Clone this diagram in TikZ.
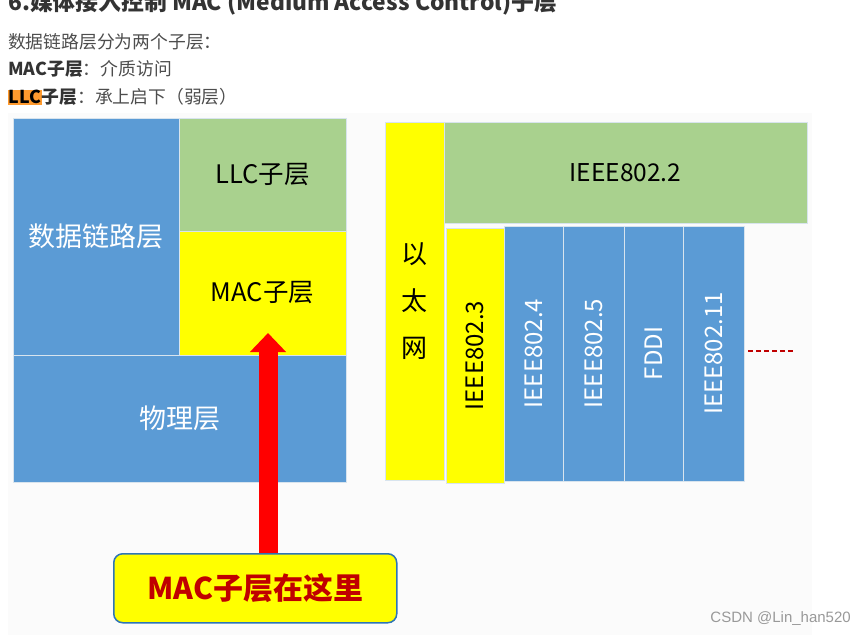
\documentclass[tikz,border=0pt]{standalone}
\usepackage{fontspec}
\setmainfont{Noto Sans CJK SC}
\newfontfamily\wmfont{Liberation Sans}
\usetikzlibrary{arrows.meta}
\definecolor{blueC}{HTML}{5B9BD5}
\definecolor{greenC}{HTML}{A9D18E}
\definecolor{yellowC}{HTML}{FFFF00}
\definecolor{txtC}{HTML}{4D4D4D}
\definecolor{headC}{HTML}{333333}
\definecolor{hlC}{HTML}{FF9A2E}
\definecolor{darkred}{HTML}{C00000}
\definecolor{calloutBorder}{HTML}{2E75B6}
\definecolor{edgeC}{HTML}{D8E4EE}
\begin{document}
\begin{tikzpicture}[x=1pt,y=-1pt,
  box/.style={draw=edgeC, line width=0.8pt, inner sep=0pt, outer sep=0pt, anchor=north west, font=\fontsize{25.5}{30}\selectfont},
  bigtext/.style={font=\fontsize{27}{32}\selectfont},
  vtext/.style={rotate=90, inner sep=0pt, font=\fontsize{24}{28}\selectfont},
  hdline/.style={anchor=west, inner sep=0pt, text=txtC, font=\fontsize{17.8}{21}\selectfont},
  bigarrow/.style={draw=red, line width=19pt, -{Triangle[width=35pt,length=19pt]}},
  redash/.style={draw=darkred, line width=2pt, dash pattern=on 5pt off 3pt},
  calloutbox/.style={draw=calloutBorder, line width=1.5pt, fill=yellowC, rounded corners=9pt, inner sep=0pt, anchor=north west, text=darkred, font=\fontsize{30}{34}\selectfont\bfseries}
]
\useasboundingbox (0,0) rectangle (865,635);
\clip (0,0) rectangle (865,635);
\fill[white] (0,0) rectangle (865,635);
\fill[gray!3] (8,113) rectangle (812,635);

% heading (cut off at top, as in the reference)
\node[anchor=base west, inner sep=0pt, text=headC, font=\fontsize{22.8}{26}\selectfont\bfseries] (title) at (8,10.5) {6.媒体接入控制 MAC (Medium Access Control)子层};

\node[hdline] (l1) at (8,42) {数据链路层分为两个子层：};
\node[hdline] (l2) at (8,69) {{\bfseries\color{headC}MAC子层}：介质访问};
\node[hdline] (l3) at (8,97) {{\setlength{\fboxsep}{0.6pt}\colorbox{hlC}{\bfseries\color{black}LLC}}{\bfseries\color{headC}子层}：承上启下（弱层）};

% left block
\node[box, bigtext, fill=blueC, text=white, minimum width=166, minimum height=237] (dll) at (13,118) {数据链路层};
\node[box, fill=greenC, text=black, minimum width=167, minimum height=113] (llc) at (179,118) {\raisebox{-5pt}{LLC子层}};
\node[box, fill=yellowC, text=black, minimum width=167, minimum height=124] (mac) at (179,231) {MAC子层};
\node[box, bigtext, fill=blueC, text=white, minimum width=333, minimum height=127] (phy) at (13,355) {物理层};

% right block
\node[box, fill=yellowC, minimum width=59, minimum height=358] (eth) at (385,122) {};
\node[inner sep=0pt, align=center, font=\fontsize{26}{47}\selectfont] (ethtxt) at (eth.center) {以\\太\\网};
\node[box, fill=greenC, text=black, minimum width=363, minimum height=101] (i8022) at (444,122) {\fontsize{24.5}{28}\selectfont IEEE802.2};
\node[box, fill=yellowC, minimum width=58, minimum height=255] (i8023) at (446,228) {};
\node[box, fill=blueC, minimum width=59, minimum height=255] (i8024) at (504,226) {};
\node[box, fill=blueC, minimum width=61, minimum height=255] (i8025) at (563,226) {};
\node[box, fill=blueC, minimum width=59, minimum height=255] (fddi) at (624,226) {};
\node[box, fill=blueC, minimum width=61, minimum height=255] (i80211) at (683,226) {};
\node[vtext, text=black] (t8023) at (i8023.center) {IEEE802.3};
\node[vtext, text=white] (t8024) at (i8024.center) {IEEE802.4};
\node[vtext, text=white] (t8025) at (i8025.center) {IEEE802.5};
\node[vtext, text=white] (tfddi) at (fddi.center) {FDDI};
\node[vtext, text=white] (t80211) at (i80211.center) {IEEE802.11};

\coordinate (ds) at (748,351);
\coordinate (de) at (794,351);
\draw[redash] (ds) -- (de);

% callout and arrow
\coordinate (tip) at (268,333);
\node[calloutbox, minimum width=283, minimum height=69, fill=none, draw=none] (callout) at (113,553) {};
\draw[bigarrow] (callout.north -| tip) -- (tip);
\node[calloutbox, minimum width=283, minimum height=69] (calloutv) at (113,553) {MAC子层在这里};

% watermark
\node[anchor=east, inner sep=0pt, text=gray!80, font=\wmfont\fontsize{15}{18}\selectfont] (wm) at (851,619) {CSDN @Lin\_han520};
\end{tikzpicture}
\end{document}
